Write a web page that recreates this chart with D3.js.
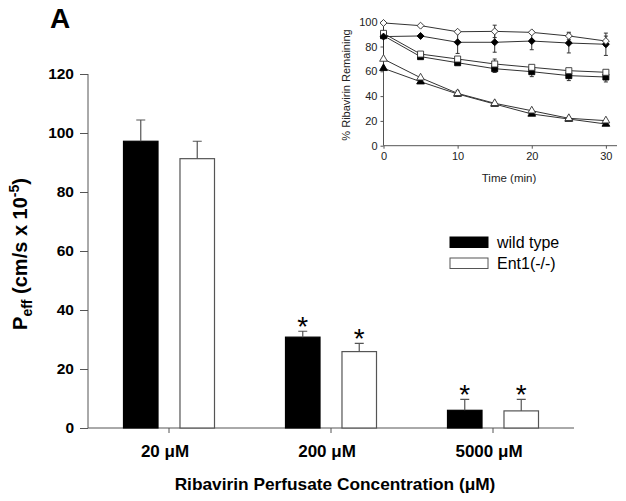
<!DOCTYPE html>
<html>
<head>
<meta charset="utf-8">
<script src="https://cdn.jsdelivr.net/npm/d3@7"></script>
<style>
  html, body { margin: 0; padding: 0; background: #fff; }
  svg { display: block; font-family: Arial, "Liberation Sans", sans-serif; }
</style>
</head>
<body>
<svg id="chart" width="626" height="501"></svg>
<script>
// ---------- Main bar chart data ----------
const categories = ["20 \u03BCM", "200 \u03BCM", "5000 \u03BCM"];
const seriesNames = ["wild type", "Ent1(-/-)"];
const wildType = [97.2, 30.8, 6.0];
const wildTypeErr = [7.2, 2.0, 3.7];
const ent1 = [91.3, 25.9, 5.8];
const ent1Err = [5.9, 2.8, 3.9];
const wildTypeSig = [false, true, true];
const ent1Sig = [false, true, true];
const yTicks = [0, 20, 40, 60, 80, 100, 120];

// ---------- Inset data ----------
const insetTimes = [0, 5, 10, 15, 20, 25, 30];
const insetYTicks = [0, 20, 40, 60, 80, 100];
const insetXTicks = [0, 10, 20, 30];
const openDiamond = [99, 96.8, 91.9, 92.2, 91.4, 88.5, 84.4];
const openDiamondErr = [0, 0, 0, 5, 0, 3, 4];
const filledDiamond = [88, 88.5, 83.4, 83.4, 84.4, 82.8, 81.8];
const filledDiamondErr = [0, 0, 9, 8, 7, 8, 9];
const openSquare = [90.6, 73.9, 69.9, 65.9, 63.2, 60.5, 59.2];
const openSquareErr = [0, 0, 0, 4, 0, 0, 0];
const filledSquare = [88.7, 71.8, 66.9, 62.1, 59.7, 56.5, 55.4];
const filledSquareErr = [26, 0, 0, 3, 4, 4, 4];
const openTriangle = [69.9, 54.8, 42.2, 34.2, 28.2, 22.1, 20.2];
const openTriangleErr = [0, 0, 2, 0, 0, 0, 0];
const filledTriangle = [62.4, 51.6, 41.7, 33.6, 25.6, 21.5, 17.5];
const filledTriangleErr = [0, 0, 0, 0, 0, 0, 0];

const svg = d3.select("#chart");
const axisColor = "#555";

// ================= MAIN CHART =================
const x0 = d3.scaleBand().domain(categories).range([88, 574]).paddingInner(0).paddingOuter(0);
const x1 = d3.scaleBand().domain(seriesNames)
  .range([x0.bandwidth() / 2 - 45.5, x0.bandwidth() / 2 + 45.5])
  .paddingInner(0.389).paddingOuter(0);
const y = d3.scaleLinear().domain([0, 120]).range([428, 74]);

const rows = categories.map((c, i) => ({
  cat: c,
  bars: [
    { name: seriesNames[0], v: wildType[i], e: wildTypeErr[i], sig: wildTypeSig[i] },
    { name: seriesNames[1], v: ent1[i], e: ent1Err[i], sig: ent1Sig[i] }
  ]
}));

// y axis
const yAxis = svg.append("g").attr("transform", "translate(88,0)")
  .call(d3.axisLeft(y).tickValues(yTicks).tickSize(8).tickPadding(6).tickFormat(d3.format("d")));
yAxis.select(".domain").attr("stroke", axisColor).attr("d", `M0,${y(0)}V${y(120)}`);
yAxis.selectAll(".tick line").attr("stroke", axisColor);
yAxis.selectAll(".tick text").attr("fill", "#000").style("font-size", "15.5px").style("font-weight", "bold")
  .style("font-family", "Arial, 'Liberation Sans', sans-serif");

// x axis
const xAxis = svg.append("g").attr("transform", `translate(0,${y(0)})`)
  .call(d3.axisBottom(x0).tickSize(5).tickPadding(10));
xAxis.select(".domain").attr("stroke", axisColor).attr("d", `M88,0H574`);
xAxis.selectAll(".tick line").attr("stroke", axisColor);
xAxis.selectAll(".tick text").attr("fill", "#000").attr("dx", -4).attr("dy", "0.85em")
  .style("font-size", "17px").style("font-weight", "bold")
  .style("font-family", "Arial, 'Liberation Sans', sans-serif");

// bars
const groups = svg.append("g").selectAll("g").data(rows).join("g")
  .attr("transform", d => `translate(${x0(d.cat)},0)`);

groups.selectAll("rect").data(d => d.bars).join("rect")
  .attr("x", d => x1(d.name))
  .attr("y", d => y(d.v))
  .attr("width", x1.bandwidth())
  .attr("height", d => y(0) - y(d.v))
  .attr("fill", (d, i) => i === 0 ? "#000" : "#fff")
  .attr("stroke", (d, i) => i === 0 ? "#000" : "#555")
  .attr("stroke-width", 1.2);

// error bars (upper only)
groups.selectAll("path.err").data(d => d.bars).join("path")
  .attr("class", "err")
  .attr("fill", "none").attr("stroke", "#555").attr("stroke-width", 1.2)
  .attr("d", d => {
    const cx = x1(d.name) + x1.bandwidth() / 2;
    return `M${cx},${y(d.v)}V${y(d.v + d.e)}M${cx - 4.5},${y(d.v + d.e)}H${cx + 4.5}`;
  });

// asterisks
groups.selectAll("text.sig").data(d => d.bars.filter(b => b.sig)).join("text")
  .attr("class", "sig")
  .attr("x", d => x1(d.name) + x1.bandwidth() / 2)
  .attr("y", d => y(d.v + d.e) - 11 + 16)
  .attr("text-anchor", "middle")
  .style("font-size", "28px")
  .text("*");

// axis titles
svg.append("text")
  .attr("x", 335).attr("y", 490)
  .attr("text-anchor", "middle")
  .style("font-size", "17.3px").style("font-weight", "bold")
  .text("Ribavirin Perfusate Concentration (\u03BCM)");

const yt = svg.append("text")
  .attr("transform", "translate(27,254) rotate(-90)")
  .attr("text-anchor", "middle")
  .style("font-size", "20px").style("font-weight", "bold");
yt.append("tspan").text("P");
yt.append("tspan").attr("dy", 5).style("font-size", "14px").text("eff");
yt.append("tspan").attr("dy", -5).text(" (cm/s x 10");
yt.append("tspan").attr("dy", -8).style("font-size", "14px").text("-5");
yt.append("tspan").attr("dy", 8).text(")");

// panel letter
svg.append("text").attr("x", 50).attr("y", 28)
  .style("font-size", "28px").style("font-weight", "bold").text("A");

// legend
const legend = svg.append("g");
seriesNames.forEach((n, i) => {
  legend.append("rect")
    .attr("x", 450).attr("y", 237 + i * 21).attr("width", 38).attr("height", 10.5)
    .attr("fill", i === 0 ? "#000" : "#fff")
    .attr("stroke", i === 0 ? "#000" : "#555").attr("stroke-width", 1);
  legend.append("text")
    .attr("x", 497).attr("y", 247.5 + i * 21)
    .style("font-size", "16px").text(n);
});

// ================= INSET =================
const ix = d3.scaleLinear().domain([0, 31.5]).range([383.5, 617]);
const iy = d3.scaleLinear().domain([0, 100]).range([145.7, 21.7]);
const inset = svg.append("g");
const insetText = "#222";

const iyAxis = inset.append("g").attr("transform", `translate(${ix(0)},0)`)
  .call(d3.axisLeft(iy).tickValues(insetYTicks).tickSize(3).tickPadding(3));
iyAxis.select(".domain").attr("stroke", axisColor).attr("d", `M0,${iy(0)}V${iy(100)}`);
iyAxis.selectAll(".tick line").attr("stroke", axisColor);
iyAxis.selectAll(".tick text").attr("fill", insetText).style("font-size", "11px")
  .style("font-family", "Arial, 'Liberation Sans', sans-serif");

const ixAxis = inset.append("g").attr("transform", `translate(0,${iy(0)})`)
  .call(d3.axisBottom(ix).tickValues(insetXTicks).tickSize(3).tickPadding(4));
ixAxis.select(".domain").attr("stroke", axisColor).attr("d", `M${ix(0)},0H${ix(31.5)}`);
ixAxis.selectAll(".tick line").attr("stroke", axisColor);
ixAxis.selectAll(".tick text").attr("fill", insetText).style("font-size", "11px")
  .style("font-family", "Arial, 'Liberation Sans', sans-serif");

inset.append("text").attr("x", 509).attr("y", 182).attr("text-anchor", "middle")
  .attr("fill", insetText).style("font-size", "11.5px").text("Time (min)");
inset.append("text").attr("transform", "translate(350,85) rotate(-90)").attr("text-anchor", "middle")
  .attr("fill", insetText).style("font-size", "11px").text("% Ribavirin Remaining");

const insetSeries = [
  { vals: filledTriangle, err: filledTriangleErr, shape: "triangle", filled: true },
  { vals: openTriangle, err: openTriangleErr, shape: "triangle", filled: false },
  { vals: filledSquare, err: filledSquareErr, shape: "square", filled: true },
  { vals: openSquare, err: openSquareErr, shape: "square", filled: false },
  { vals: filledDiamond, err: filledDiamondErr, shape: "diamond", filled: true },
  { vals: openDiamond, err: openDiamondErr, shape: "diamond", filled: false }
];

inset.append("clipPath").attr("id", "insetClip").append("rect")
  .attr("x", ix(0) - 5).attr("y", iy(100)).attr("width", ix(31.5) - ix(0) + 10).attr("height", iy(0) - iy(100));

const line = d3.line().x((d, i) => ix(insetTimes[i])).y(d => iy(d));

// error bars
insetSeries.forEach(s => {
  inset.append("g").attr("clip-path", "url(#insetClip)").selectAll("path")
    .data(s.vals.map((v, i) => ({ t: insetTimes[i], v, e: s.err[i] })).filter(d => d.e > 0))
    .join("path")
    .attr("fill", "none").attr("stroke", "#333").attr("stroke-width", 1)
    .attr("d", d => {
      const cx = ix(d.t);
      return `M${cx},${iy(d.v - d.e)}V${iy(d.v + d.e)}M${cx - 2},${iy(d.v + d.e)}H${cx + 2}M${cx - 2},${iy(d.v - d.e)}H${cx + 2}`;
    });
});

// lines
insetSeries.forEach(s => {
  inset.append("path").datum(s.vals)
    .attr("fill", "none").attr("stroke", "#333").attr("stroke-width", 1)
    .attr("d", line);
});

// markers
const shapes = {
  triangle: d3.symbol().type(d3.symbolTriangle).size(26),
  square: d3.symbol().type(d3.symbolSquare).size(36),
  diamond: d3.symbol().type(d3.symbolSquare).size(24)
};
insetSeries.forEach(s => {
  inset.append("g").selectAll("path")
    .data(s.vals.map((v, i) => ({ t: insetTimes[i], v })))
    .join("path")
    .attr("transform", d => `translate(${ix(d.t)},${iy(d.v)})` + (s.shape === "diamond" ? " rotate(45)" : ""))
    .attr("d", shapes[s.shape])
    .attr("fill", s.filled ? "#000" : "#fff")
    .attr("stroke", s.filled ? "#000" : "#333")
    .attr("stroke-width", 0.9);
});
</script>
</body>
</html>
